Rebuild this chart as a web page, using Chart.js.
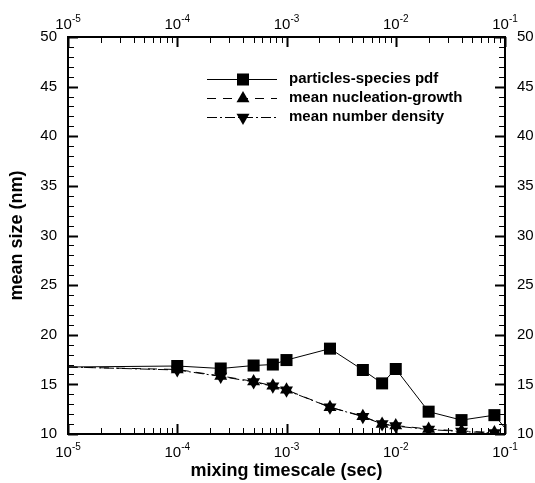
<!DOCTYPE html>
<html>
<head>
<meta charset="utf-8">
<title>mean size vs mixing timescale</title>
<script src="https://cdn.jsdelivr.net/npm/chart.js@4.4.1/dist/chart.umd.min.js"></script>
<style>
  html, body { margin: 0; padding: 0; background: #fff; }
  canvas { display: block; }
</style>
</head>
<body>
<canvas id="sizeChart" width="535" height="483"></canvas>
<script>
// Data
const mixingTimes = [1e-5, 1e-4, 2.5e-4, 5e-4, 7.5e-4, 1e-3, 2.5e-3, 5e-3, 7.5e-3, 1e-2, 2e-2, 4e-2, 8e-2, 1e-1];
const pdfSize        = [16.75, 16.85, 16.6, 16.9, 17.0, 17.45, 18.6, 16.45, 15.1, 16.55, 12.25, 11.4, 11.9, 10.6];
const nucleationSize = [16.75, 16.5, 15.85, 15.3, 14.85, 14.45, 12.7, 11.8, 11.0, 10.85, 10.5, 10.3, 10.15, 10.05];
const numberDenSize  = [16.75, 16.45, 15.8, 15.25, 14.8, 14.4, 12.7, 11.75, 11.0, 10.8, 10.45, 10.25, 10.1, 10.0];
const seriesNames = ['particles-species pdf', 'mean nucleation-growth', 'mean number density'];
const xDecades = [-5, -4, -3, -2, -1];
const yMin = 10, yMax = 50;

const FONT = '"Liberation Sans", Arial, Helvetica, sans-serif';

function toPoints(ys) {
    return mixingTimes.map((x, i) => ({ x: x, y: ys[i] }));
}
// no markers on the first/last points (line runs to the frame)
function radii(r) {
    return mixingTimes.map((x, i) => (i === 0 || i === mixingTimes.length - 1) ? 0 : r);
}

// inward ticks, frame, superscript x labels, legend
const framePlugin = {
    id: 'framePlugin',
    beforeDatasetsDraw(chart) {
        const { ctx, chartArea: a, scales } = chart;
        ctx.save();
        ctx.strokeStyle = '#000';

        // log ticks on bottom and top
        for (let e = -5; e <= -1; e++) {
            for (let m = 1; m <= 9; m++) {
                const v = m * Math.pow(10, e);
                if (v > 0.1 + 1e-12) break;
                const px = Math.round(scales.x.getPixelForValue(v)) + 0.5;
                const len = m === 1 ? 10 : 6;
                ctx.lineWidth = m === 1 ? 2 : 1;
                ctx.beginPath();
                ctx.moveTo(px, a.bottom); ctx.lineTo(px, a.bottom - len);
                ctx.moveTo(px, a.top); ctx.lineTo(px, a.top + len);
                ctx.stroke();
            }
        }
        // linear ticks on left and right
        for (let v = yMin; v <= yMax; v++) {
            const py = Math.round(scales.y.getPixelForValue(v)) + 0.5;
            const major = v % 5 === 0;
            const len = major ? 10 : 6;
            ctx.lineWidth = major ? 2 : 1;
            ctx.beginPath();
            ctx.moveTo(a.left, py); ctx.lineTo(a.left + len, py);
            ctx.moveTo(a.right, py); ctx.lineTo(a.right - len, py);
            ctx.stroke();
        }

        ctx.lineWidth = 2;
        ctx.strokeRect(a.left, a.top, a.right - a.left, a.bottom - a.top);

        // x labels 10^n, bottom and top
        ctx.fillStyle = '#000';
        ctx.textBaseline = 'alphabetic';
        ctx.textAlign = 'left';
        xDecades.forEach(e => {
            const px = scales.x.getPixelForValue(Math.pow(10, e));
            ctx.font = '15px ' + FONT;
            const wBase = ctx.measureText('10').width;
            ctx.font = '10px ' + FONT;
            const wExp = ctx.measureText(String(e)).width;
            const x0 = px - (wBase + wExp) / 2;
            [457, 29].forEach(base => {
                ctx.font = '15px ' + FONT;
                ctx.fillText('10', x0, base);
                ctx.font = '10px ' + FONT;
                ctx.fillText(String(e), x0 + wBase, base - 7);
            });
        });
        ctx.restore();
    },
    afterDatasetsDraw(chart) {
        const { ctx } = chart;
        const rows = [79, 98, 117];
        ctx.save();
        chart.data.datasets.forEach((ds, i) => {
            const y = rows[i];
            ctx.strokeStyle = '#000';
            ctx.lineWidth = 1;
            ctx.setLineDash(ds.borderDash || []);
            ctx.beginPath();
            ctx.moveTo(207, y + 0.5); ctx.lineTo(277, y + 0.5);
            ctx.stroke();
            ctx.setLineDash([]);
            ctx.fillStyle = '#000';
            Chart.helpers.drawPoint(ctx, {
                pointStyle: ds.pointStyle,
                rotation: ds.pointRotation || 0,
                radius: Math.max(...ds.pointRadius),
                borderWidth: 0
            }, 243, y + 0.5);
            ctx.font = 'bold 15px ' + FONT;
            ctx.textBaseline = 'middle';
            ctx.textAlign = 'left';
            ctx.fillText(ds.label, 289, y);
        });
        ctx.restore();
    }
};

const ctx = document.getElementById('sizeChart').getContext('2d');

new Chart(ctx, {
    type: 'line',
    data: {
        datasets: [
            {
                label: seriesNames[0],
                data: toPoints(pdfSize),
                borderColor: '#000',
                backgroundColor: '#000',
                borderWidth: 1,
                pointStyle: 'rect',
                pointRadius: radii(8.5),
                pointBackgroundColor: '#000',
                pointBorderWidth: 0
            },
            {
                label: seriesNames[1],
                data: toPoints(nucleationSize),
                borderColor: '#000',
                backgroundColor: '#000',
                borderWidth: 1,
                borderDash: [9, 7],
                pointStyle: 'triangle',
                pointRadius: radii(7.5),
                pointBackgroundColor: '#000',
                pointBorderWidth: 0
            },
            {
                label: seriesNames[2],
                data: toPoints(numberDenSize),
                borderColor: '#000',
                backgroundColor: '#000',
                borderWidth: 1,
                borderDash: [10, 3, 2, 3],
                pointStyle: 'triangle',
                pointRotation: 180,
                pointRadius: radii(7.5),
                pointBackgroundColor: '#000',
                pointBorderWidth: 0
            }
        ]
    },
    options: {
        responsive: false,
        animation: false,
        devicePixelRatio: 1,
        layout: { padding: 0 },
        plugins: {
            legend: { display: false },
            tooltip: { enabled: false }
        },
        scales: {
            x: {
                type: 'logarithmic',
                position: 'bottom',
                min: 1e-5,
                max: 1e-1,
                grid: { display: false },
                border: { display: false },
                ticks: { display: false },
                title: {
                    display: true,
                    text: 'mixing timescale (sec)',
                    color: '#000',
                    font: { family: FONT, size: 18, weight: 'bold' },
                    padding: { top: 0, bottom: 1 }
                },
                afterFit(scale) { scale.height = 49; }
            },
            x2: {
                type: 'logarithmic',
                position: 'top',
                min: 1e-5,
                max: 1e-1,
                grid: { display: false },
                border: { display: false },
                ticks: { display: false },
                afterFit(scale) { scale.height = 37; }
            },
            y: {
                type: 'linear',
                position: 'left',
                min: yMin,
                max: yMax,
                grid: { display: false, drawTicks: false },
                border: { display: false },
                ticks: {
                    stepSize: 5,
                    padding: 11,
                    color: '#000',
                    font: { family: FONT, size: 15 }
                },
                title: {
                    display: true,
                    text: 'mean size (nm)',
                    color: '#000',
                    font: { family: FONT, size: 18, weight: 'bold' },
                    padding: { top: 6, bottom: 0 }
                },
                afterFit(scale) { scale.width = 68; }
            },
            y2: {
                type: 'linear',
                position: 'right',
                min: yMin,
                max: yMax,
                grid: { display: false, drawTicks: false },
                border: { display: false },
                ticks: {
                    stepSize: 5,
                    padding: 12,
                    color: '#000',
                    font: { family: FONT, size: 15 }
                },
                afterFit(scale) { scale.width = 30; }
            }
        }
    },
    plugins: [framePlugin]
});
</script>
</body>
</html>
